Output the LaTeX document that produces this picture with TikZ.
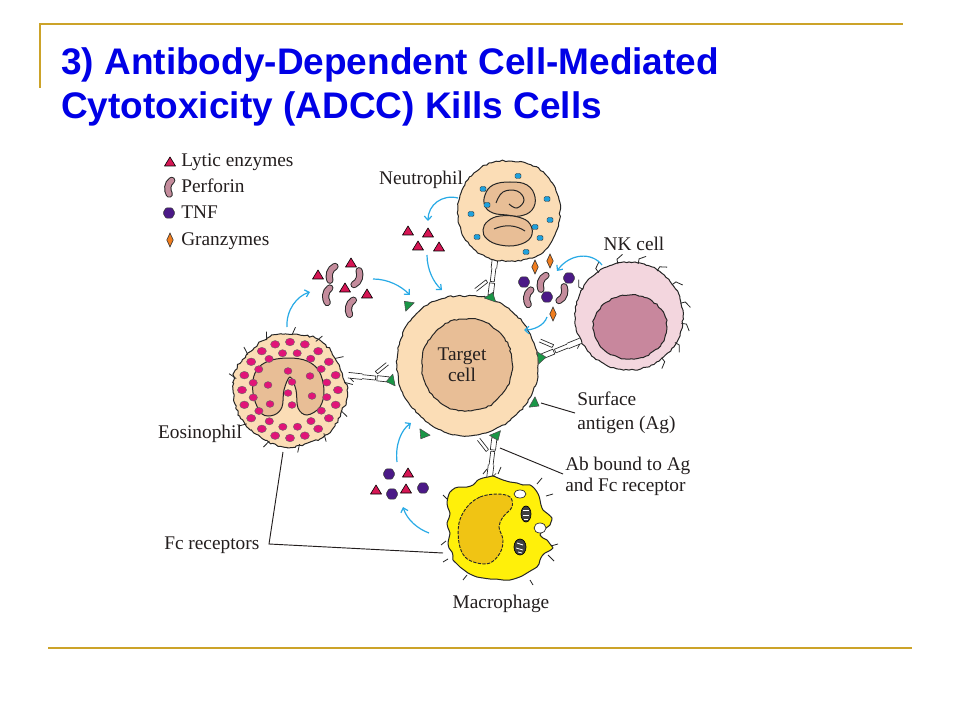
\documentclass[tikz,border=0pt]{standalone}
\usepackage{fontspec}
\setmainfont{Liberation Serif}
\newfontfamily\titlefont{Liberation Sans}
\usetikzlibrary{arrows.meta,decorations.pathmorphing}

\definecolor{gold}{RGB}{204,163,41}
\definecolor{titleblue}{RGB}{0,0,230}
\definecolor{peach}{RGB}{251,221,182}
\definecolor{tanc}{RGB}{232,190,150}
\definecolor{lyticred}{RGB}{214,22,84}
\definecolor{perf}{RGB}{196,140,156}
\definecolor{tnfc}{RGB}{75,25,135}
\definecolor{granz}{RGB}{240,125,30}
\definecolor{agreen}{RGB}{25,150,70}
\definecolor{arrowblue}{RGB}{40,170,230}
\definecolor{nkout}{RGB}{243,214,222}
\definecolor{nkin}{RGB}{200,135,157}
\definecolor{macy}{RGB}{255,240,10}
\definecolor{macn}{RGB}{240,196,20}
\definecolor{eosred}{RGB}{225,20,120}
\definecolor{neutblue}{RGB}{30,160,220}
\definecolor{labelc}{RGB}{35,30,30}

\tikzset{
  lbl/.style={font=\fontsize{14.5}{16.5}\selectfont, text=labelc, inner sep=0pt},
  titletext/.style={font=\titlefont\bfseries\fontsize{27.75}{33}\selectfont, text=titleblue, inner sep=0pt, anchor=base west},
  goldline/.style={draw=gold, line width=1.5pt},
  flow/.style={draw=arrowblue, line width=0.9pt, -{Straight Barb[length=3pt,width=5.5pt]}},
  ptr/.style={draw=labelc, line width=0.7pt},
  cellline/.style={draw=black!85, line width=0.75pt},
  ragged/.style={decorate, decoration={random steps, segment length=2.2pt, amplitude=0.55pt}},
  rough/.style={decorate, decoration={random steps, segment length=2pt, amplitude=0.9pt}},
  hair/.style={draw=black!85, line width=0.6pt},
  abox/.style={fill=white, draw=black!85, line width=0.5pt},
  agstyle/.style={fill=agreen, draw=black!70, line width=0.4pt, line join=round},
  lytic/.pic={\filldraw[fill=lyticred, draw=black, line width=0.45pt, line join=round] (-5.5,4)--(5.5,4)--(0,-5)--cycle;},
  perforin/.pic={
    \draw[black!85, line width=5.4pt, line cap=round] (1.8,-7) .. controls (-3.2,-3.5) and (-3.2,3.5) .. (-0.8,7.5);
    \draw[perf, line width=3.9pt, line cap=round] (1.8,-7) .. controls (-3.2,-3.5) and (-3.2,3.5) .. (-0.8,7.5);},
  tnf/.pic={\filldraw[fill=tnfc, draw=black!80, line width=0.4pt, rounded corners=0.8pt] (0:6)--(60:6)--(120:6)--(180:6)--(240:6)--(300:6)--cycle;},
  granzyme/.pic={\filldraw[fill=granz, draw=black!80, line width=0.45pt] (0,-7)--(3.2,0)--(0,7)--(-3.2,0)--cycle;},
  antibody/.pic={
    \filldraw[abox] (5,-2.6) rectangle (17,2.6);
    \draw[black!85, line width=0.5pt] (17,-4.5) -- (7,-14.5) (19.5,-6.5) -- (9.5,-16.5) (17,-4.5) -- (19.5,-6.5);
    \draw[black!85, line width=0.5pt] (18.5,-2) -- (32,-2) (18.5,2) -- (32,2) (18.5,-2) -- (18.5,2);
    \draw[black!85, line width=0.5pt] (32,-2.8) -- (46,-2.8) (32,2.8) -- (46,2.8) (44,2.8) -- (40,6);},
}

\begin{document}
\begin{tikzpicture}[x=0.75pt, y=-0.75pt]
\pgfmathsetseed{11}
\useasboundingbox (0,0) rectangle (960,720);
\fill[white] (0,0) rectangle (960,720);

% frame lines
\coordinate (tl) at (40,24);
\coordinate (tr) at (903,24);
\coordinate (vl) at (40,88);
\coordinate (bl) at (48,648);
\coordinate (br) at (912,648);
\draw[goldline] (vl) -- (tl) -- (tr);
\draw[goldline] (bl) -- (br);

% title
\node[titletext] (title1) at (61,75) {3) Antibody-Dependent Cell-Mediated};
\node[titletext] (title2) at (61,119) {Cytotoxicity (ADCC) Kills Cells};

% antibodies (under the effector cells)
\pic[rotate=-97, yscale=-1] at (495,433) {antibody};
\pic[rotate=83] at (490,300) {antibody};
\pic[rotate=22] at (538,358) {antibody};
\pic[rotate=174, yscale=-1] at (394,380) {antibody};

% ---------- Neutrophil ----------
\filldraw[fill=peach, cellline, ragged] plot[smooth cycle, tension=0.8] coordinates {
  (560,211) (556,232) (545,250) (527,259) (508,261) (489,258) (472,247) (461,230) (458,210)
  (462,190) (474,173) (491,163) (509,161) (528,164) (545,174) (556,191)};
\filldraw[fill=tanc, cellline] plot[smooth cycle, tension=0.7] coordinates {
  (485,195) (493,185) (510,182) (527,185) (535,197) (532,210) (520,216) (507,215) (493,213) (485,206)};
\filldraw[fill=tanc, cellline] plot[smooth cycle, tension=0.7] coordinates {
  (483,230) (488,221) (500,216) (518,217) (530,224) (531,237) (518,245) (500,245) (487,239)};
\draw[cellline] plot[smooth, tension=0.7] coordinates {(496,203) (503,192) (517,191) (524,200) (517,208) (509,204)};
\draw[cellline] (494,229) .. controls (505,224) and (516,225) .. (525,231);
\foreach \p in {(518,176),(483,189),(547,199),(487,205),(471,214),(550,220),(535,227),(477,237),(540,238),(526,252)}
  \filldraw[fill=neutblue, draw=black!80, line width=0.35pt, rounded corners=1pt] \p ++(-3,-2.5) rectangle ++(6,5);

% ---------- NK cell ----------
\begin{scope}[shift={(629,316)}]
  \filldraw[fill=nkout, cellline, ragged] (0,0) circle (54);
  \foreach \a in {-150,-125,-102,-80,-58,-36,-14,8,30,52}
    \draw[hair] (\a:53) -- (\a:58) -- ({\a+6}:62);
  \filldraw[fill=nkin, cellline, ragged] (1,11) ellipse [x radius=37, y radius=32];
\end{scope}

% ---------- Eosinophil ----------
\begin{scope}[shift={(290,390)}]
  \filldraw[fill=peach, cellline, rough] plot[smooth cycle, tension=0.7] coordinates {
    (0:57) (25:56) (50:58) (75:56) (100:57) (125:55) (150:57) (175:56) (200:58) (225:55) (250:57) (275:56) (300:58) (325:55)};
  \foreach \a in {-168,-140,-115,-88,-62,-35,-8,22,52,80,112,142}
    \draw[hair] (\a:55) -- ({\a+3}:63);
\end{scope}
\filldraw[fill=tanc, cellline] plot[smooth cycle, tension=0.6] coordinates {
  (262,414) (254,398) (253,380) (259,367) (272,360) (290,358) (307,361) (319,371) (324,390)
  (320,407) (307,415) (298,408) (296,390) (290,377) (284,390) (282,407) (274,415)};
\begin{scope}[shift={(290,390)}]
  \foreach \a in {0,18,...,342}
    \filldraw[fill=eosred, draw=black!60, line width=0.3pt] (\a:48) ellipse [x radius=4.6, y radius=3.8];
  \foreach \a in {11,33.5,...,350}
    \filldraw[fill=eosred, draw=black!60, line width=0.3pt] (\a:37.5) ellipse [x radius=4.2, y radius=3.6];
  \foreach \p in {(-2,-19),(2,-8),(-2,3),(2,15),(-22,-5),(22,6),(-20,14),(20,-14)}
    \filldraw[fill=eosred, draw=black!60, line width=0.3pt] \p ellipse [x radius=4, y radius=3.4];
\end{scope}

% ---------- Macrophage ----------
\filldraw[fill=macy, cellline, line join=round] plot[smooth cycle, tension=0.45] coordinates {
  (450,492) (455,488) (460,487) (467,487) (473,485) (478,480) (483,478) (488,477) (493,476) (498,478) (503,480)
  (510,482) (517,483) (523,485) (530,485) (534,488) (537,492) (539,496) (540,500) (541,505) (543,510)
  (548,514) (552,518) (551,522) (550,525) (546,528) (543,530) (541,533) (540,535) (543,538) (547,540)
  (550,544) (553,548) (549,551) (545,553) (542,556) (540,560) (539,564) (537,567) (532,570) (527,573)
  (522,576) (517,578) (510,580) (503,580) (496,579) (490,579) (483,578) (477,577) (472,575) (468,573)
  (464,570) (460,567) (456,563) (453,560) (453,556) (452,552) (449,548) (448,543) (449,538) (450,533)
  (448,528) (447,523) (449,518) (450,513) (448,508) (447,503) (448,497)};
\filldraw[fill=macn, draw=black!85, line width=0.7pt, dash pattern=on 2.5pt off 1pt] plot[smooth cycle, tension=0.6] coordinates {
  (467,507) (480,497) (497,494) (510,497) (512,507) (503,517) (499,527) (503,540) (500,553)
  (490,563) (477,563) (465,557) (459,543) (459,523)};
\filldraw[fill=black!75, draw=black, line width=0.5pt] (526,514) ellipse [x radius=5, y radius=8];
\draw[white, line width=0.6pt] (523,510) -- (529,510) (523,515) -- (529,515) (524,519) -- (528,519);
\filldraw[fill=black!75, draw=black, line width=0.5pt] (520,547) ellipse [x radius=6, y radius=8];
\draw[white, line width=0.6pt] (517,543) -- (523,545) (516,548) -- (523,550) (518,552) -- (522,553);
\filldraw[fill=white, draw=black!85, line width=0.5pt] (520,494) ellipse [x radius=6, y radius=4];
\filldraw[fill=white, draw=black!85, line width=0.5pt] (540,528) ellipse [x radius=6, y radius=5];
\draw[hair] (483,474) -- (487,469) (498,474) -- (501,467) (537,484) -- (542,478) (546,496) -- (553,494)
  (551,546) -- (558,544) (548,555) -- (554,561) (447,499) -- (443,495) (446,541) -- (441,545)
  (448,559) -- (443,562) (530,580) -- (533,585) (467,575) -- (463,580);

% ---------- Target cell ----------
\begin{scope}[shift={(467,365)}]
  \filldraw[fill=peach, cellline, ragged] plot[smooth cycle, tension=0.8] coordinates {
    (0:71) (22:71) (45:70) (67:70) (90:71) (112:70) (135:69) (157:70) (180:70) (202:71) (225:72) (247:71) (270:69) (292:70) (315:70) (337:70)};
  \filldraw[fill=tanc, cellline, ragged] plot[smooth cycle, tension=0.8] coordinates {
    (-5:45 and 46) (40:45 and 46) (85:45 and 46) (130:45 and 46) (175:45 and 46) (220:45 and 46) (265:45 and 46) (310:45 and 46)};
\end{scope}
\node[lbl, anchor=base] (tgt1) at (462,360) {Target};
\node[lbl, anchor=base] (tgt2) at (462,381) {cell};

% surface antigens (apex pointing outward)
\filldraw[agstyle] (414.3,302.8) -- (404.4,301.3) -- (405.7,311.2) -- cycle;
\filldraw[agstyle] (495.7,302) -- (492.7,292.5) -- (484.3,298) -- cycle;
\filldraw[agstyle] (538.6,364) -- (546,357.2) -- (537.4,352) -- cycle;
\filldraw[agstyle] (392.8,374.1) -- (386.2,381.6) -- (395.2,385.9) -- cycle;
\filldraw[agstyle] (529,407.2) -- (539,406) -- (535,396.8) -- cycle;
\filldraw[agstyle] (419.9,428.8) -- (420.8,438.8) -- (430.1,435.2) -- cycle;
\filldraw[agstyle] (489.5,435.3) -- (498,440.4) -- (500.5,430.7) -- cycle;

% ---------- released molecules ----------
% near neutrophil
\pic at (408,231) {lytic};
\pic at (428,233) {lytic};
\pic at (418,246) {lytic};
\pic at (439,247) {lytic};
% between eosinophil and target
\pic at (318,275) {lytic};
\pic at (351,263) {lytic};
\pic at (345,288) {lytic};
\pic at (367,294) {lytic};
\pic[rotate=-10] at (332,273) {perforin};
\pic[rotate=170] at (357,278) {perforin};
\pic at (328,295) {perforin};
\pic[rotate=-5] at (351,307) {perforin};
% between NK and target
\pic at (535,267) {granzyme};
\pic at (550,261) {granzyme};
\pic at (553,314) {granzyme};
\pic at (524,282) {tnf};
\pic at (569,278) {tnf};
\pic at (547,297) {tnf};
\pic[rotate=-10] at (543,282) {perforin};
\pic at (529,297) {perforin};
\pic[rotate=170] at (562,294) {perforin};
% near macrophage
\pic at (389,474) {tnf};
\pic at (392,494) {tnf};
\pic at (423,488) {tnf};
\pic at (408,473) {lytic};
\pic at (376,490) {lytic};
\pic at (406,489) {lytic};

% ---------- legend ----------
\pic at (170,162) {lytic};
\pic[scale=0.95] at (170,187) {perforin};
\pic at (169,213) {tnf};
\pic at (170,240) {granzyme};
\node[lbl, anchor=base west] (lg1) at (181,167) {Lytic enzymes};
\node[lbl, anchor=base west] (lg2) at (181,193) {Perforin};
\node[lbl, anchor=base west] (lg3) at (181,219) {TNF};
\node[lbl, anchor=base west] (lg4) at (181,246) {Granzymes};

% ---------- flow arrows ----------
\coordinate (f1s) at (458,198); \coordinate (f1e) at (428,221);
\coordinate (f2s) at (427,255); \coordinate (f2e) at (442,290);
\coordinate (f3s) at (287,327); \coordinate (f3e) at (310,292);
\coordinate (f4s) at (373,279); \coordinate (f4e) at (410,295);
\coordinate (f5s) at (602,265); \coordinate (f5e) at (557,271);
\coordinate (f6s) at (547,317); \coordinate (f6e) at (524,330);
\coordinate (f7s) at (397,462); \coordinate (f7e) at (411,423);
\coordinate (f8s) at (429,533); \coordinate (f8e) at (403,507);
\draw[flow] (f1s) .. controls (442,194) and (428,205) .. (f1e);
\draw[flow] (f2s) .. controls (427,270) and (434,283) .. (f2e);
\draw[flow] (f3s) .. controls (286,310) and (297,296) .. (f3e);
\draw[flow] (f4s) .. controls (388,279) and (401,286) .. (f4e);
\draw[flow] (f5s) .. controls (592,252) and (570,253) .. (f5e);
\draw[flow] (f6s) .. controls (544,326) and (533,330) .. (f6e);
\draw[flow] (f7s) .. controls (395,445) and (401,430) .. (f7e);
\draw[flow] (f8s) .. controls (418,529) and (407,520) .. (f8e);

% ---------- labels and pointers ----------
\node[lbl, anchor=base] (lneut) at (421,185) {Neutrophil};
\node[lbl, anchor=base] (lnk) at (634,251) {NK cell};
\node[lbl, anchor=base] (leos) at (200,438) {Eosinophil};
\node[lbl, anchor=base] (lmac) at (501,608) {Macrophage};
\node[lbl, anchor=base west] (lsurf1) at (577,405) {Surface};
\node[lbl, anchor=base west] (lsurf2) at (577,429) {antigen (Ag)};
\node[lbl, anchor=base west] (lab1) at (565,470) {Ab bound to Ag};
\node[lbl, anchor=base west] (lab2) at (565,491) {and Fc receptor};
\node[lbl, anchor=base west] (lfc) at (164,549) {Fc receptors};

\coordinate (agp) at (541,403); \coordinate (agpe) at (575,413);
\coordinate (abp) at (500,448); \coordinate (abpe) at (563,474);
\coordinate (fceos) at (283,452); \coordinate (fccorner) at (269,544); \coordinate (fcmac) at (443,553);
\draw[ptr] (agp) -- (agpe);
\draw[ptr] (abp) -- (abpe);
\draw[ptr] (fceos) -- (fccorner) -- (fcmac);
\end{tikzpicture}
\end{document}
